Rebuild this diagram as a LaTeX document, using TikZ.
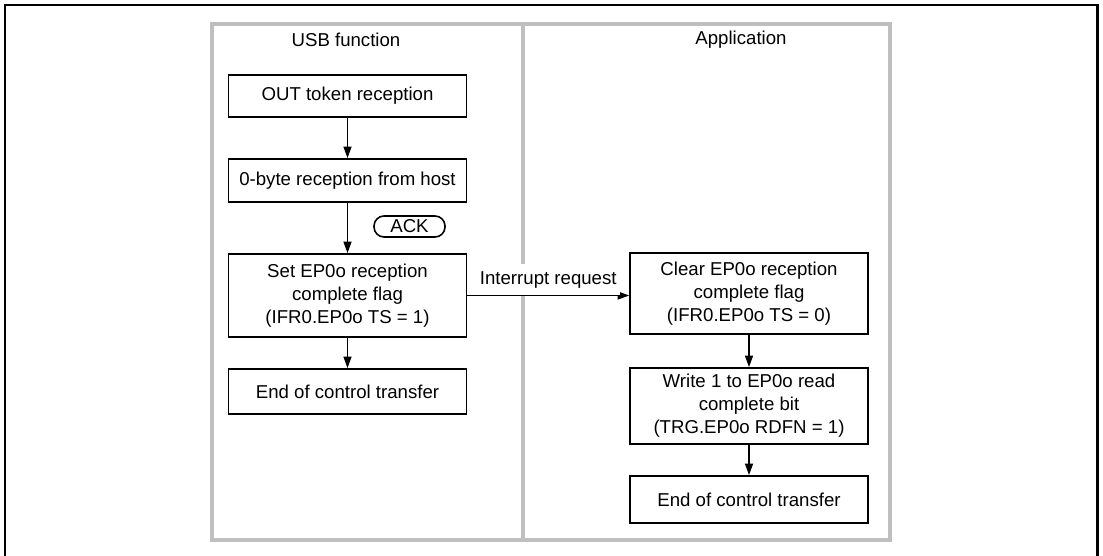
\documentclass[tikz,border=0pt]{standalone}
\usepackage{fontspec}
\setmainfont{Liberation Sans}
\usetikzlibrary{arrows.meta}
\begin{document}
\begin{tikzpicture}[
  font=\fontsize{10.6}{13}\selectfont,
  stepbox/.style={draw,line width=1.1pt,align=center,minimum width=4.76cm,inner sep=2pt},
  connection/.style={-{Triangle[length=6.5pt,width=4.6pt]},line width=0.6pt},
  lane/.style={draw=black!25,line width=2.8pt}
]
  \useasboundingbox (0,0) rectangle (22.06,-11.12);
  \draw[line width=1.7pt] (0.1,-11.12) -- (0.1,-0.1) -- (21.94,-0.1) -- (21.94,-11.12);
  \draw[lane] (4.24,-0.48) rectangle (17.8,-10.8);
  \draw[lane] (10.46,-0.48) -- (10.46,-10.8);

  \node (usbtitle) at (6.92,-0.8) {USB function};
  \node (apptitle) at (14.82,-0.8) {Application};

  % USB function side
  \node[stepbox,minimum height=0.84cm] (outtoken) at (6.95,-1.92) {OUT token reception};
  \node[stepbox,minimum height=0.86cm] (zerobyte) at (6.95,-3.61) {0-byte reception from host};
  \node[stepbox,minimum height=1.66cm] (setflag) at (6.95,-5.91)
    {Set EP0o reception\\complete flag\\(IFR0.EP0o TS = 1)};
  \node[stepbox,minimum height=0.9cm] (usbend) at (6.95,-7.83) {End of control transfer};
  \node[draw,line width=0.9pt,rounded corners=0.2cm,minimum width=1.42cm,minimum height=0.42cm,inner sep=1pt]
    (ack) at (8.19,-4.53) {ACK};
  \draw[connection] (outtoken) -- (zerobyte);
  \draw[connection] (zerobyte) -- (setflag);
  \draw[connection] (setflag) -- (usbend);

  % Application side
  \node[stepbox,minimum height=1.62cm] (clearflag) at (14.98,-5.87)
    {Clear EP0o reception\\complete flag\\(IFR0.EP0o TS = 0)};
  \node[stepbox,minimum height=1.52cm] (readbit) at (14.98,-8.12)
    {Write 1 to EP0o read\\complete bit\\(TRG.EP0o RDFN = 1)};
  \node[stepbox,minimum height=0.94cm] (append) at (14.98,-9.99) {End of control transfer};
  \draw[connection] (clearflag) -- (readbit);
  \draw[connection] (readbit) -- (append);

  \draw[connection] (setflag.east) -- (setflag.east -| clearflag.west)
    node[midway,above,fill=white,inner xsep=2pt,inner ysep=4pt] {Interrupt request};
\end{tikzpicture}
\end{document}
